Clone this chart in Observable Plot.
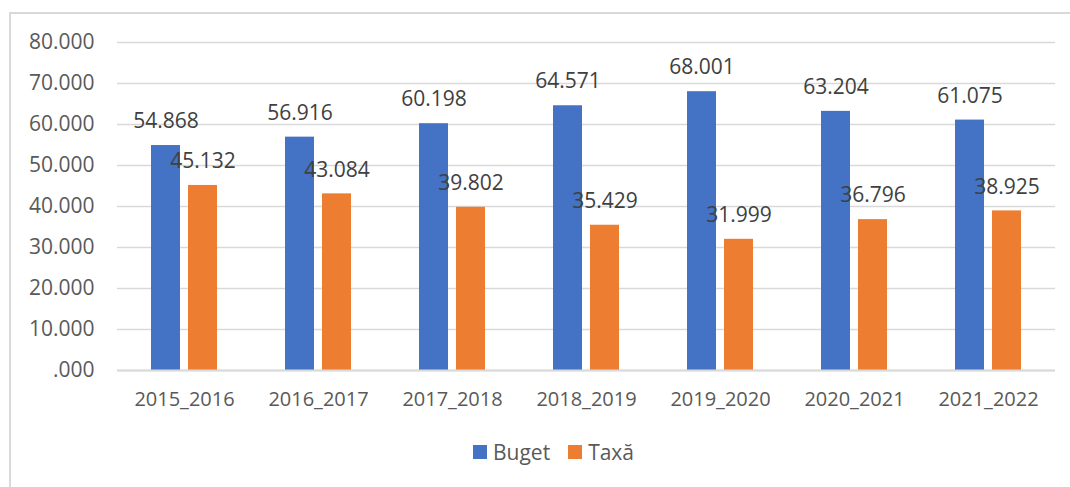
<!DOCTYPE html>
<html>
<head>
<meta charset="utf-8">
<script src="https://cdn.jsdelivr.net/npm/d3@7"></script>
<script src="https://cdn.jsdelivr.net/npm/@observablehq/plot@0.6"></script>
<style>
  html, body { margin: 0; padding: 0; background: #fff; overflow: hidden; }
  body { width: 1070px; height: 487px; position: relative; font-family: "Open Sans", sans-serif; }
  #frame { position: absolute; left: 9px; top: 12px; width: 1100px; height: 520px; border: 2px solid #d9d9d9; box-sizing: border-box; z-index: 2; pointer-events: none; }
  #chart { position: absolute; left: 0; top: 0; z-index: 1; }
  #chart svg { background: transparent !important; }
  #legend { position: absolute; top: 438px; left: 473px; display: flex; align-items: center; font-size: 21px; color: #595959; white-space: nowrap; }
  .item { display: flex; align-items: center; margin-right: 18px; }
  .sw { width: 14px; height: 14px; margin-right: 6px; }
</style>
</head>
<body>
<div id="frame"></div>
<div id="chart"></div>
<div id="legend"></div>
<script>
const years = ["2015_2016","2016_2017","2017_2018","2018_2019","2019_2020","2020_2021","2021_2022"];
const series = ["Buget", "Taxă"];
const buget = [54.868, 56.916, 60.198, 64.571, 68.001, 63.204, 61.075];
const taxa  = [45.132, 43.084, 39.802, 35.429, 31.999, 36.796, 38.925];
const colors = ["#4472C4", "#ED7D31"];
const yTicks = [0, 10, 20, 30, 40, 50, 60, 70, 80];
const yTickLabels = [".000", "10.000", "20.000", "30.000", "40.000", "50.000", "60.000", "70.000", "80.000"];

const data = [];
years.forEach((y, i) => {
  data.push({year: y, series: series[0], value: buget[i]});
  data.push({year: y, series: series[1], value: taxa[i]});
});

const fmt = v => v.toFixed(3);
const yFmt = d => yTickLabels[yTicks.indexOf(d)];

const chart = Plot.plot({
  width: 1070,
  height: 420,
  marginLeft: 116,
  marginRight: 14,
  marginTop: 42,
  marginBottom: 50,
  style: { fontFamily: "Open Sans, sans-serif", fontSize: "21px", background: "transparent", overflow: "visible" },
  fx: { domain: years, padding: 0, label: null, axis: null },
  x: { domain: series, paddingInner: 0.21, paddingOuter: 0.87, axis: null },
  y: { domain: [0, 80], ticks: yTicks, tickFormat: yFmt, label: null, axis: null },
  color: { domain: series, range: colors },
  marks: [
    Plot.gridY(yTicks, { stroke: "#d9d9d9", strokeOpacity: 1, strokeWidth: 1.5 }),
    Plot.axisY({ ticks: yTicks, tickFormat: yFmt, tickSize: 0, tickPadding: 23, fill: "#595959", fontSize: 21, label: null }),
    Plot.axisFx({ anchor: "bottom", tickSize: 0, tickPadding: 21, fill: "#595959", fontSize: 20, label: null }),
    Plot.barY(data, { fx: "year", x: "series", y: "value", fill: "series" }),
    Plot.ruleY([0], { stroke: "#d9d9d9", strokeWidth: 2 }),
    Plot.text(data, { fx: "year", x: "series", y: "value", text: d => fmt(d.value), dy: -24, fill: "#404040", fontSize: 21 })
  ]
});
document.getElementById("chart").appendChild(chart);

const legend = document.getElementById("legend");
series.forEach((s, i) => {
  const it = document.createElement("div");
  it.className = "item";
  const sw = document.createElement("div");
  sw.className = "sw";
  sw.style.background = colors[i];
  const t = document.createElement("span");
  t.textContent = s;
  it.appendChild(sw); it.appendChild(t);
  legend.appendChild(it);
});
</script>
</body>
</html>
